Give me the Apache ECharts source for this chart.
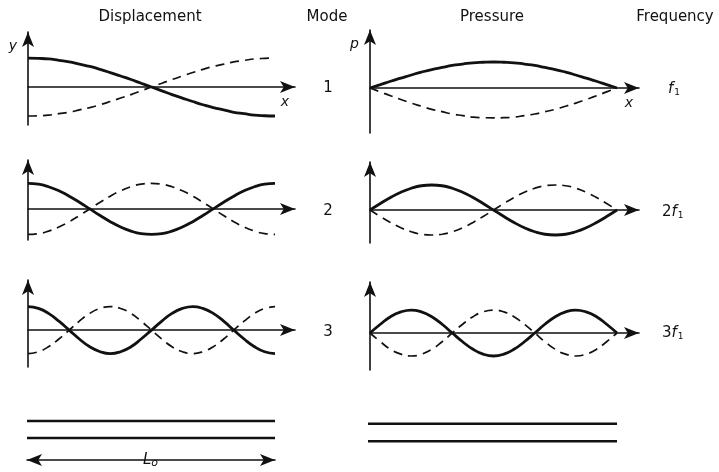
<!DOCTYPE html>
<html>
<head>
<meta charset="utf-8">
<title>Standing waves in a pipe</title>
<script src="https://cdn.jsdelivr.net/npm/echarts@6/dist/echarts.min.js"></script>
<style>
  html, body { margin: 0; padding: 0; background: #fff; }
  #chart { width: 719px; height: 472px; }
</style>
</head>
<body>
<div id="chart"></div>
<script>
// position along the pipe, 0 = one end, 1 = other end (L_o)
const xPos = [0, 0.042, 0.083, 0.125, 0.167, 0.208, 0.25, 0.292, 0.333, 0.375, 0.417, 0.458,
  0.5, 0.542, 0.583, 0.625, 0.667, 0.708, 0.75, 0.792, 0.833, 0.875, 0.917, 0.958, 1]

// displacement, mode 1..3 (solid = one extreme, dashed = half a period later)
const disp1Solid = [1, 0.99, 0.97, 0.92, 0.87, 0.79, 0.71, 0.61, 0.5, 0.38, 0.26, 0.13, 0,
  -0.13, -0.26, -0.38, -0.5, -0.61, -0.71, -0.79, -0.87, -0.92, -0.97, -0.99, -1]
const disp1Dash = [-1, -0.99, -0.97, -0.92, -0.87, -0.79, -0.71, -0.61, -0.5, -0.38, -0.26, -0.13, 0,
  0.13, 0.26, 0.38, 0.5, 0.61, 0.71, 0.79, 0.87, 0.92, 0.97, 0.99, 1]
const disp2Solid = [1, 0.97, 0.87, 0.71, 0.5, 0.26, 0, -0.26, -0.5, -0.71, -0.87, -0.97, -1,
  -0.97, -0.87, -0.71, -0.5, -0.26, 0, 0.26, 0.5, 0.71, 0.87, 0.97, 1]
const disp2Dash = [-1, -0.97, -0.87, -0.71, -0.5, -0.26, 0, 0.26, 0.5, 0.71, 0.87, 0.97, 1,
  0.97, 0.87, 0.71, 0.5, 0.26, 0, -0.26, -0.5, -0.71, -0.87, -0.97, -1]
const disp3Solid = [1, 0.92, 0.71, 0.38, 0, -0.38, -0.71, -0.92, -1, -0.92, -0.71, -0.38, 0,
  0.38, 0.71, 0.92, 1, 0.92, 0.71, 0.38, 0, -0.38, -0.71, -0.92, -1]
const disp3Dash = [-1, -0.92, -0.71, -0.38, 0, 0.38, 0.71, 0.92, 1, 0.92, 0.71, 0.38, 0,
  -0.38, -0.71, -0.92, -1, -0.92, -0.71, -0.38, 0, 0.38, 0.71, 0.92, 1]

// pressure, mode 1..3
const pres1Solid = [0, 0.13, 0.26, 0.38, 0.5, 0.61, 0.71, 0.79, 0.87, 0.92, 0.97, 0.99, 1,
  0.99, 0.97, 0.92, 0.87, 0.79, 0.71, 0.61, 0.5, 0.38, 0.26, 0.13, 0]
const pres1Dash = [0, -0.15, -0.3, -0.44, -0.58, -0.7, -0.82, -0.91, -1, -1.06, -1.12, -1.14, -1.15,
  -1.14, -1.12, -1.06, -1, -0.91, -0.82, -0.7, -0.58, -0.44, -0.3, -0.15, 0]
const pres2Solid = [0, 0.26, 0.5, 0.71, 0.87, 0.97, 1, 0.97, 0.87, 0.71, 0.5, 0.26, 0,
  -0.26, -0.5, -0.71, -0.87, -0.97, -1, -0.97, -0.87, -0.71, -0.5, -0.26, 0]
const pres2Dash = [0, -0.26, -0.5, -0.71, -0.87, -0.97, -1, -0.97, -0.87, -0.71, -0.5, -0.26, 0,
  0.26, 0.5, 0.71, 0.87, 0.97, 1, 0.97, 0.87, 0.71, 0.5, 0.26, 0]
const pres3Solid = [0, 0.38, 0.71, 0.92, 1, 0.92, 0.71, 0.38, 0, -0.38, -0.71, -0.92, -1,
  -0.92, -0.71, -0.38, 0, 0.38, 0.71, 0.92, 1, 0.92, 0.71, 0.38, 0]
const pres3Dash = [0, -0.38, -0.71, -0.92, -1, -0.92, -0.71, -0.38, 0, 0.38, 0.71, 0.92, 1,
  0.92, 0.71, 0.38, 0, -0.38, -0.71, -0.92, -1, -0.92, -0.71, -0.38, 0]

// the pipe itself: two walls, from one end to the other
const tubeEnds = [0, 1]
const tubeWalls = [1, -1]

const headers = ['Displacement', 'Mode', 'Pressure', 'Frequency']
const modes = ['1', '2', '3']
const freqMult = ['', '2', '3']

const INK = '#111'
const FONT = 'DejaVu Sans'

// one grid per little plot
const panels = [
  { left: 28, top: 32, width: 267, height: 93, xMax: 1.081, yMin: -1.31, yMax: 1.9, solid: disp1Solid, dash: disp1Dash, xName: 'x', yName: 'y' },
  { left: 370, top: 30, width: 269, height: 103, xMax: 1.089, yMin: -1.73, yMax: 2.23, solid: pres1Solid, dash: pres1Dash, xName: 'x', yName: 'p' },
  { left: 28, top: 160, width: 267, height: 80, xMax: 1.081, yMin: -1.22, yMax: 1.92, solid: disp2Solid, dash: disp2Dash },
  { left: 370, top: 162, width: 269, height: 81, xMax: 1.089, yMin: -1.32, yMax: 1.92, solid: pres2Solid, dash: pres2Dash },
  { left: 28, top: 280, width: 267, height: 87, xMax: 1.081, yMin: -1.57, yMax: 2.13, solid: disp3Solid, dash: disp3Dash },
  { left: 370, top: 282, width: 269, height: 88, xMax: 1.089, yMin: -1.61, yMax: 2.22, solid: pres3Solid, dash: pres3Dash }
]

const arrowLine = { color: INK, width: 1.6 }
const hidden = { show: false }

const grids = []
const xAxes = []
const yAxes = []
const series = []

panels.forEach((p, i) => {
  grids.push({ left: p.left, top: p.top, width: p.width, height: p.height })
  xAxes.push({
    gridIndex: i, type: 'value', min: 0, max: p.xMax,
    name: p.xName || '', nameLocation: 'end', nameGap: -6,
    nameTextStyle: { fontFamily: FONT, fontSize: 14, fontStyle: 'italic', color: INK, align: 'right', verticalAlign: 'top', padding: [8, 0, 0, 0] },
    axisLine: { onZero: true, symbol: ['none', 'arrow'], symbolSize: [9, 15], lineStyle: arrowLine },
    axisTick: hidden, axisLabel: hidden, splitLine: hidden
  })
  yAxes.push({
    gridIndex: i, type: 'value', min: p.yMin, max: p.yMax,
    name: p.yName || '', nameLocation: 'end', nameGap: -14,
    nameTextStyle: { fontFamily: FONT, fontSize: 14, fontStyle: 'italic', color: INK, align: 'right', verticalAlign: 'middle', padding: [0, 11, 0, 0] },
    axisLine: { onZero: true, symbol: ['none', 'arrow'], symbolSize: [9, 15], lineStyle: arrowLine },
    axisTick: hidden, axisLabel: hidden, splitLine: hidden
  })
  series.push({
    type: 'line', xAxisIndex: i, yAxisIndex: i, smooth: true, showSymbol: false,
    data: xPos.map((x, k) => [x, p.solid[k]]),
    lineStyle: { color: INK, width: 2.8 }
  })
  series.push({
    type: 'line', xAxisIndex: i, yAxisIndex: i, smooth: true, showSymbol: false,
    data: xPos.map((x, k) => [x, p.dash[k]]),
    lineStyle: { color: INK, width: 1.7, type: [9, 6] }
  })
})

// the two pipe sketches at the bottom
const tubes = [
  { left: 27, top: 415, width: 248, height: 45, yMin: -3.59, yMax: 1.71, lengthArrow: true },
  { left: 368, top: 415, width: 249, height: 40, yMin: -2.56, yMax: 2.0, lengthArrow: false }
]
tubes.forEach((t) => {
  const i = grids.length
  grids.push({ left: t.left, top: t.top, width: t.width, height: t.height })
  xAxes.push({
    gridIndex: i, type: 'value', min: 0, max: 1, position: 'bottom',
    show: t.lengthArrow,
    name: '{l|L}{o|o}', nameLocation: 'middle', nameGap: 0,
    nameTextStyle: {
      verticalAlign: 'middle', backgroundColor: '#fff', padding: [2, 6, 2, 5],
      rich: {
        l: { fontFamily: FONT, fontSize: 15, fontStyle: 'italic', color: INK },
        o: { fontFamily: FONT, fontSize: 11, fontStyle: 'italic', color: INK, verticalAlign: 'bottom', padding: [6, 0, 0, 0] }
      }
    },
    axisLine: { onZero: false, symbol: ['arrow', 'arrow'], symbolSize: [9, 15], lineStyle: arrowLine },
    axisTick: hidden, axisLabel: hidden, splitLine: hidden
  })
  yAxes.push({ gridIndex: i, type: 'value', min: t.yMin, max: t.yMax, show: false })
  tubeWalls.forEach((w) => {
    series.push({
      type: 'line', xAxisIndex: i, yAxisIndex: i, showSymbol: false,
      data: tubeEnds.map((x) => [x, w]),
      lineStyle: { color: INK, width: 2.4 }
    })
  })
})

const headerX = [150, 327, 492, 675]
const rowY = [88, 211, 332]

const texts = []
headers.forEach((h, k) => {
  texts.push({ type: 'text', x: headerX[k], y: 17, style: { text: h, fontFamily: FONT, fontSize: 15, fill: INK, align: 'center', verticalAlign: 'middle' } })
})
modes.forEach((m, k) => {
  texts.push({ type: 'text', x: 328, y: rowY[k], style: { text: m, fontFamily: FONT, fontSize: 15, fill: INK, align: 'center', verticalAlign: 'middle' } })
  texts.push({
    type: 'text', x: freqMult[k] ? 662 : 668, y: rowY[k] + 1,
    style: {
      text: (freqMult[k] ? '{n|' + freqMult[k] + '}' : '') + '{f|f}{s|1}',
      align: 'left', verticalAlign: 'middle',
      rich: {
        n: { fontFamily: FONT, fontSize: 15, fill: INK },
        f: { fontFamily: FONT, fontSize: 15, fontStyle: 'italic', fill: INK },
        s: { fontFamily: FONT, fontSize: 9, fill: INK, verticalAlign: 'bottom', padding: [8, 0, 0, 1] }
      }
    }
  })
})

const chart = echarts.init(document.getElementById('chart'), null, { renderer: 'canvas' })
chart.setOption({
  animation: false,
  backgroundColor: '#fff',
  grid: grids,
  xAxis: xAxes,
  yAxis: yAxes,
  series: series,
  graphic: texts
})
window.addEventListener('resize', () => chart.resize())
</script>
</body>
</html>
